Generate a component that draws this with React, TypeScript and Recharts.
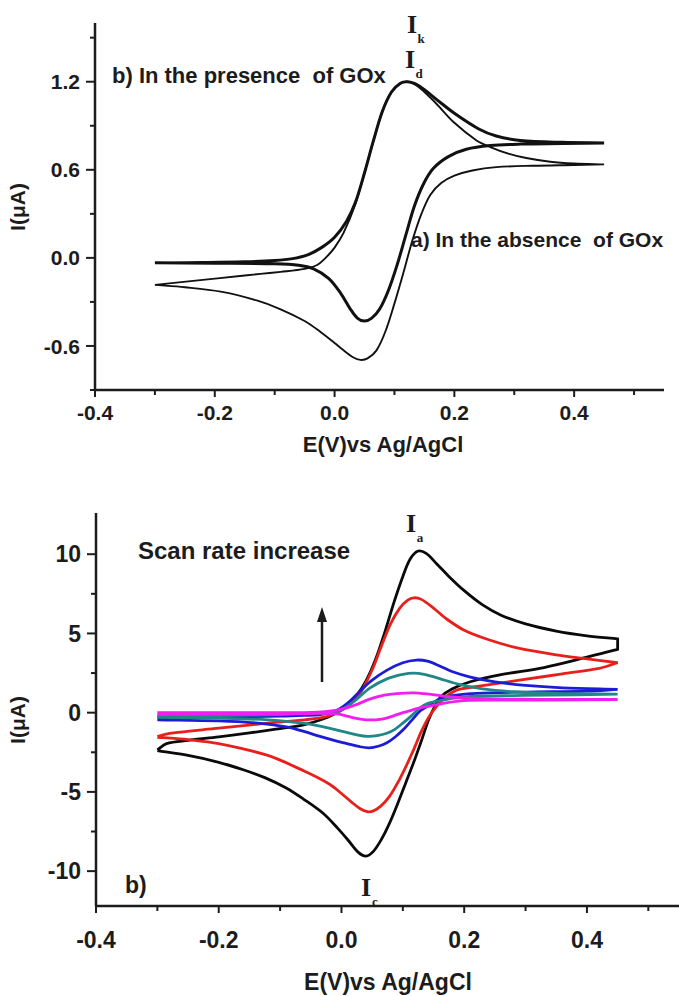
import { LineChart, Line, XAxis, YAxis } from "recharts";

type Pt = [number, number];

// [E (V), I (μA)] — forward sweep from -0.3 V, then the reverse sweep back
const presenceScan: Pt[] = [
  [-0.3, -0.035], [-0.22, -0.032], [-0.15, -0.027], [-0.1, -0.018], [-0.07, -0.005],
  [-0.045, 0.02], [-0.02, 0.075], [0.0, 0.14], [0.02, 0.25], [0.035, 0.38],
  [0.05, 0.58], [0.065, 0.8], [0.08, 1.0], [0.095, 1.13], [0.11, 1.19],
  [0.122, 1.2], [0.135, 1.185], [0.15, 1.145], [0.17, 1.08], [0.2, 0.985],
  [0.24, 0.88], [0.27, 0.83], [0.31, 0.8], [0.38, 0.787], [0.45, 0.783],
  [0.38, 0.779], [0.31, 0.775], [0.26, 0.765], [0.22, 0.74], [0.19, 0.69],
  [0.165, 0.61], [0.148, 0.5], [0.133, 0.35], [0.12, 0.17], [0.105, -0.04],
  [0.09, -0.22], [0.075, -0.35], [0.062, -0.41], [0.05, -0.43], [0.038, -0.41],
  [0.025, -0.34], [0.01, -0.24], [-0.01, -0.14], [-0.035, -0.075], [-0.06, -0.05],
  [-0.1, -0.04], [-0.2, -0.036], [-0.3, -0.034],
];

const absenceScan: Pt[] = [
  [-0.3, -0.184], [-0.22, -0.15], [-0.15, -0.12], [-0.09, -0.095], [-0.05, -0.075],
  [-0.03, -0.05], [-0.015, 0.0], [0.0, 0.07], [0.015, 0.17], [0.035, 0.37],
  [0.05, 0.58], [0.065, 0.8], [0.08, 1.0], [0.095, 1.13], [0.11, 1.19],
  [0.122, 1.2], [0.135, 1.18], [0.15, 1.13], [0.17, 1.05], [0.2, 0.92],
  [0.237, 0.8], [0.26, 0.755], [0.29, 0.71], [0.32, 0.68], [0.36, 0.655],
  [0.4, 0.643], [0.45, 0.637],
  [0.4, 0.633], [0.33, 0.628], [0.27, 0.618], [0.23, 0.595], [0.2, 0.56],
  [0.178, 0.51], [0.16, 0.43], [0.145, 0.3], [0.13, 0.12], [0.115, -0.1],
  [0.1, -0.31], [0.085, -0.5], [0.07, -0.63], [0.055, -0.685], [0.043, -0.695],
  [0.03, -0.675], [0.015, -0.63], [0.0, -0.58], [-0.025, -0.5], [-0.05, -0.43],
  [-0.09, -0.35], [-0.13, -0.29], [-0.19, -0.23], [-0.25, -0.2], [-0.3, -0.184],
];

// scan-rate series, slowest (magenta) to fastest (black)
const scanBlack: Pt[] = [
  [-0.3, -2.35], [-0.285, -1.95], [-0.25, -1.75], [-0.2, -1.53], [-0.15, -1.28],
  [-0.1, -1.0], [-0.06, -0.75], [-0.03, -0.4], [-0.01, -0.05], [0.01, 0.45],
  [0.025, 1.1], [0.04, 2.0], [0.055, 3.3], [0.07, 5.0], [0.085, 6.9],
  [0.1, 8.6], [0.112, 9.7], [0.125, 10.2], [0.138, 10.05], [0.155, 9.4],
  [0.175, 8.6], [0.2, 7.7], [0.23, 6.8], [0.26, 6.15], [0.3, 5.6],
  [0.35, 5.15], [0.4, 4.85], [0.45, 4.65],
  [0.45, 4.0], [0.4, 3.5], [0.33, 2.85], [0.26, 2.4], [0.21, 1.95],
  [0.18, 1.5], [0.162, 1.0], [0.152, 0.4], [0.142, -0.45], [0.13, -1.8],
  [0.118, -3.1], [0.105, -4.4], [0.092, -5.7], [0.078, -7.0], [0.065, -8.0],
  [0.052, -8.75], [0.04, -9.05], [0.027, -8.8], [0.012, -8.1], [-0.006, -7.3],
  [-0.03, -6.35], [-0.062, -5.45], [-0.09, -4.75], [-0.125, -4.1], [-0.16, -3.6],
  [-0.2, -3.13], [-0.25, -2.7], [-0.3, -2.4],
];

const scanRed: Pt[] = [
  [-0.3, -1.5], [-0.28, -1.3], [-0.2, -0.98], [-0.12, -0.66], [-0.06, -0.45],
  [-0.03, -0.3], [-0.01, -0.05], [0.01, 0.4], [0.03, 1.2], [0.05, 2.7],
  [0.065, 4.2], [0.08, 5.6], [0.095, 6.6], [0.108, 7.1], [0.118, 7.25],
  [0.13, 7.15], [0.15, 6.6], [0.17, 5.95], [0.2, 5.2], [0.24, 4.6],
  [0.29, 4.05], [0.35, 3.65], [0.4, 3.4], [0.45, 3.15],
  [0.42, 2.8], [0.36, 2.45], [0.29, 2.05], [0.23, 1.7], [0.19, 1.45],
  [0.17, 1.0], [0.155, 0.4], [0.142, -0.3], [0.13, -1.2], [0.118, -2.3],
  [0.105, -3.4], [0.092, -4.4], [0.078, -5.3], [0.064, -5.9], [0.052, -6.2],
  [0.042, -6.25], [0.03, -6.05], [0.015, -5.6], [0.0, -5.1], [-0.02, -4.5],
  [-0.06, -3.7], [-0.12, -2.7], [-0.2, -1.95], [-0.25, -1.7], [-0.3, -1.55],
];

const scanBlue: Pt[] = [
  [-0.3, -0.32], [-0.2, -0.28], [-0.1, -0.22], [-0.06, -0.17], [-0.035, -0.12],
  [-0.01, 0.1], [0.01, 0.6], [0.03, 1.35], [0.05, 2.05], [0.075, 2.7],
  [0.1, 3.15], [0.122, 3.32], [0.14, 3.25], [0.16, 2.95], [0.18, 2.6],
  [0.21, 2.25], [0.25, 1.95], [0.3, 1.72], [0.36, 1.57], [0.45, 1.47],
  [0.4, 1.36], [0.3, 1.3], [0.22, 1.22], [0.19, 1.12], [0.165, 0.95],
  [0.15, 0.65], [0.138, 0.35], [0.128, 0.1], [0.114, -0.5], [0.1, -1.1],
  [0.087, -1.55], [0.074, -1.9], [0.06, -2.12], [0.045, -2.22], [0.03, -2.15],
  [0.009, -1.95], [-0.012, -1.75], [-0.035, -1.5], [-0.06, -1.2], [-0.09, -0.9],
  [-0.14, -0.65], [-0.2, -0.52], [-0.3, -0.45],
];

const scanTeal: Pt[] = [
  [-0.3, -0.2], [-0.2, -0.18], [-0.1, -0.12], [-0.04, -0.05], [-0.007, 0.05],
  [0.02, 0.7], [0.046, 1.55], [0.075, 2.15], [0.1, 2.42], [0.117, 2.5],
  [0.135, 2.42], [0.16, 2.15], [0.19, 1.8], [0.23, 1.5], [0.28, 1.32],
  [0.35, 1.22], [0.45, 1.17],
  [0.38, 1.12], [0.28, 1.08], [0.21, 1.02], [0.18, 0.9], [0.16, 0.75],
  [0.142, 0.6], [0.128, 0.3], [0.114, -0.2], [0.1, -0.66], [0.087, -1.05],
  [0.074, -1.3], [0.058, -1.45], [0.043, -1.5], [0.025, -1.4], [-0.007, -1.1],
  [-0.035, -0.85], [-0.063, -0.66], [-0.12, -0.45], [-0.2, -0.35], [-0.3, -0.3],
];

const scanMagenta: Pt[] = [
  [-0.3, 0.0], [-0.15, 0.0], [-0.05, 0.02], [-0.007, 0.16], [0.02, 0.45],
  [0.046, 0.85], [0.07, 1.1], [0.09, 1.2], [0.115, 1.25], [0.14, 1.18],
  [0.17, 1.02], [0.2, 0.93], [0.25, 0.87], [0.32, 0.84], [0.45, 0.83],
  [0.35, 0.8], [0.25, 0.79], [0.2, 0.76], [0.17, 0.62], [0.148, 0.45],
  [0.128, 0.3], [0.114, 0.15], [0.1, 0.0], [0.085, -0.2], [0.07, -0.38],
  [0.055, -0.45], [0.04, -0.45], [0.02, -0.33], [-0.007, -0.08], [-0.04, -0.05],
  [-0.1, -0.08], [-0.3, -0.1],
];

const xTicks = [-0.4, -0.3, -0.2, -0.1, 0, 0.1, 0.2, 0.3, 0.4, 0.5];
const xMajor = [-0.4, -0.2, 0, 0.2, 0.4];
const topYTicks = [-0.9, -0.6, -0.3, 0, 0.3, 0.6, 0.9, 1.2, 1.5];
const topYMajor = [-0.6, 0, 0.6, 1.2];
const bottomYTicks = [-10, -7.5, -5, -2.5, 0, 2.5, 5, 7.5, 10];
const bottomYMajor = [-10, -5, 0, 5, 10];

const FONT = '"Liberation Sans", Arial, Helvetica, sans-serif';
const SERIF = '"Liberation Serif", "Times New Roman", serif';
const INK = "#1c1c1c";

const toRows = (pts: Pt[]) => pts.map(([e, i]) => ({ e, i }));

// Smooth curve through every point; sharp bends (the scan reversals) stay as corners.
const smoothLoop = (context: any) => {
  let pts: number[][] = [];
  const unit = (a: number[], b: number[]) => {
    const dx = b[0] - a[0];
    const dy = b[1] - a[1];
    const d = Math.hypot(dx, dy) || 1;
    return [dx / d, dy / d];
  };
  return {
    areaStart() {},
    areaEnd() {},
    lineStart() {
      pts = [];
    },
    point(x: number, y: number) {
      pts.push([+x, +y]);
    },
    lineEnd() {
      const n = pts.length;
      if (!n) return;
      context.moveTo(pts[0][0], pts[0][1]);
      if (n < 3) {
        for (let k = 1; k < n; k++) context.lineTo(pts[k][0], pts[k][1]);
        return;
      }
      const tin: number[][] = [];
      const tout: number[][] = [];
      const cornerCos = Math.cos((65 * Math.PI) / 180);
      for (let k = 0; k < n; k++) {
        if (k === 0 || k === n - 1) {
          const u = k === 0 ? unit(pts[0], pts[1]) : unit(pts[n - 2], pts[n - 1]);
          tin[k] = u;
          tout[k] = u;
          continue;
        }
        const a = unit(pts[k - 1], pts[k]);
        const b = unit(pts[k], pts[k + 1]);
        if (a[0] * b[0] + a[1] * b[1] < cornerCos) {
          tin[k] = a;
          tout[k] = b;
        } else {
          const u = unit(pts[k - 1], pts[k + 1]);
          tin[k] = u;
          tout[k] = u;
        }
      }
      for (let k = 0; k < n - 1; k++) {
        const p = pts[k];
        const q = pts[k + 1];
        const d = Math.hypot(q[0] - p[0], q[1] - p[1]) / 3;
        context.bezierCurveTo(
          p[0] + tout[k][0] * d,
          p[1] + tout[k][1] * d,
          q[0] - tin[k + 1][0] * d,
          q[1] - tin[k + 1][1] * d,
          q[0],
          q[1]
        );
      }
    },
  };
};

const isMajor = (v: number, majors: number[]) =>
  majors.some((m) => Math.abs(m - v) < 1e-6);

const makeYTick =
  (majors: number[], fmt: (v: number) => string, size: number) => (props: any) => {
    const { x, y, payload } = props;
    const major = isMajor(payload.value, majors);
    return (
      <g>
        <line x1={x} x2={x - (major ? 9 : 5)} y1={y} y2={y} stroke={INK} strokeWidth={2} />
        {major && (
          <text
            x={x - 15}
            y={y}
            dy="0.36em"
            textAnchor="end"
            fontFamily={FONT}
            fontWeight="bold"
            fontSize={size}
            fill={INK}
          >
            {fmt(payload.value)}
          </text>
        )}
      </g>
    );
  };

const makeXTick = (gap: number, size: number) => (props: any) => {
  const { x, y, payload } = props;
  const major = isMajor(payload.value, xMajor);
  return (
    <g>
      <line x1={x} x2={x} y1={y} y2={y + (major ? 7 : 5)} stroke={INK} strokeWidth={2} />
      {major && (
        <text
          x={x}
          y={y + gap}
          textAnchor="middle"
          fontFamily={FONT}
          fontWeight="bold"
          fontSize={size}
          fill={INK}
        >
          {payload.value.toFixed(1)}
        </text>
      )}
    </g>
  );
};

const axisLine = { stroke: INK, strokeWidth: 2.5 };

function GoxPanel() {
  return (
    <LineChart width={679} height={480} margin={{ top: 23, right: 15, bottom: 0, left: 0 }}>
      <XAxis
        type="number"
        dataKey="e"
        domain={[-0.4, 0.55]}
        ticks={xTicks}
        interval={0}
        height={90}
        tickSize={0}
        tickMargin={0}
        tickLine={false}
        axisLine={axisLine}
        tick={makeXTick(30, 21)}
        allowDataOverflow
      />
      <YAxis
        type="number"
        domain={[-0.9, 1.6]}
        ticks={topYTicks}
        interval={0}
        width={95}
        tickSize={0}
        tickMargin={0}
        tickLine={false}
        axisLine={axisLine}
        tick={makeYTick(topYMajor, (v) => v.toFixed(1), 21)}
        allowDataOverflow
      />
      <Line
        data={toRows(absenceScan)}
        dataKey="i"
        type={smoothLoop as any}
        stroke="#111"
        strokeWidth={1.9}
        dot={false}
        activeDot={false}
        isAnimationActive={false}
      />
      <Line
        data={toRows(presenceScan)}
        dataKey="i"
        type={smoothLoop as any}
        stroke="#111"
        strokeWidth={3}
        dot={false}
        activeDot={false}
        isAnimationActive={false}
      />
    </LineChart>
  );
}

const rateSeries: { pts: Pt[]; color: string }[] = [
  { pts: scanBlack, color: "#0a0a0a" },
  { pts: scanRed, color: "#e8201c" },
  { pts: scanBlue, color: "#1c1cd6" },
  { pts: scanTeal, color: "#1f8787" },
  { pts: scanMagenta, color: "#f01ef0" },
];

function ScanRatePanel() {
  return (
    <LineChart width={679} height={516} margin={{ top: 33, right: 0, bottom: 0, left: 0 }}>
      <XAxis
        type="number"
        dataKey="e"
        domain={[-0.4, 0.55]}
        ticks={xTicks}
        interval={0}
        height={90}
        tickSize={0}
        tickMargin={0}
        tickLine={false}
        axisLine={axisLine}
        tick={makeXTick(42, 23)}
        allowDataOverflow
      />
      <YAxis
        type="number"
        domain={[-12.2, 12.6]}
        ticks={bottomYTicks}
        interval={0}
        width={96}
        tickSize={0}
        tickMargin={0}
        tickLine={false}
        axisLine={axisLine}
        tick={makeYTick(bottomYMajor, (v) => String(v), 23)}
        allowDataOverflow
      />
      {rateSeries.map((s, k) => (
        <Line
          key={k}
          data={toRows(s.pts)}
          dataKey="i"
          type={smoothLoop as any}
          stroke={s.color}
          strokeWidth={2.8}
          dot={false}
          activeDot={false}
          isAnimationActive={false}
        />
      ))}
    </LineChart>
  );
}

const sans = { fontFamily: FONT, fontWeight: "bold" as const, fill: INK };
const serif = { fontFamily: SERIF, fontWeight: "bold" as const, fill: INK };

function PeakLabel({ x, y, sub }: { x: number; y: number; sub: string }) {
  return (
    <g>
      <text x={x} y={y} fontSize={26} textAnchor="middle" {...serif}>
        I
      </text>
      <text x={x + 9} y={y + 10} fontSize={13} textAnchor="middle" {...serif}>
        {sub}
      </text>
    </g>
  );
}

function Annotations() {
  return (
    <svg
      width={679}
      height={996}
      style={{ position: "absolute", left: 0, top: 0, pointerEvents: "none" }}
    >
      {/* upper panel */}
      <text transform="translate(25,207) rotate(-90)" textAnchor="middle" fontSize={21} {...sans}>
        I(μA)
      </text>
      <text x={383} y={452} textAnchor="middle" fontSize={22} {...sans}>
        E(V)vs Ag/AgCl
      </text>
      <text x={112} y={83} fontSize={22} style={{ whiteSpace: "pre" }} {...sans}>
        b) In the presence  of GOx
      </text>
      <text x={411} y={247} fontSize={21} style={{ whiteSpace: "pre" }} {...sans}>
        a) In the absence  of GOx
      </text>
      <PeakLabel x={412} y={33} sub="k" />
      <PeakLabel x={410} y={68} sub="d" />

      {/* lower panel */}
      <text transform="translate(25,720) rotate(-90)" textAnchor="middle" fontSize={21} {...sans}>
        I(μA)
      </text>
      <text x={388} y={990} textAnchor="middle" fontSize={23} {...sans}>
        E(V)vs Ag/AgCl
      </text>
      <text x={138} y={559} fontSize={24} {...sans}>
        Scan rate increase
      </text>
      <text x={125} y={893} fontSize={23} {...sans}>
        b)
      </text>
      <line x1={322} y1={682} x2={322} y2={618} stroke={INK} strokeWidth={2.5} />
      <polygon points="322,607 317,622 327,622" fill={INK} />
      <PeakLabel x={411} y={532} sub="a" />
      <PeakLabel x={366} y={896} sub="c" />
    </svg>
  );
}

export default function App() {
  return (
    <div
      style={{
        position: "absolute",
        left: 0,
        top: 0,
        width: 679,
        height: 996,
        background: "#fff",
        overflow: "hidden",
      }}
    >
      <div style={{ position: "absolute", left: 0, top: 0 }}>
        <GoxPanel />
      </div>
      <div style={{ position: "absolute", left: 0, top: 480 }}>
        <ScanRatePanel />
      </div>
      <Annotations />
    </div>
  );
}
